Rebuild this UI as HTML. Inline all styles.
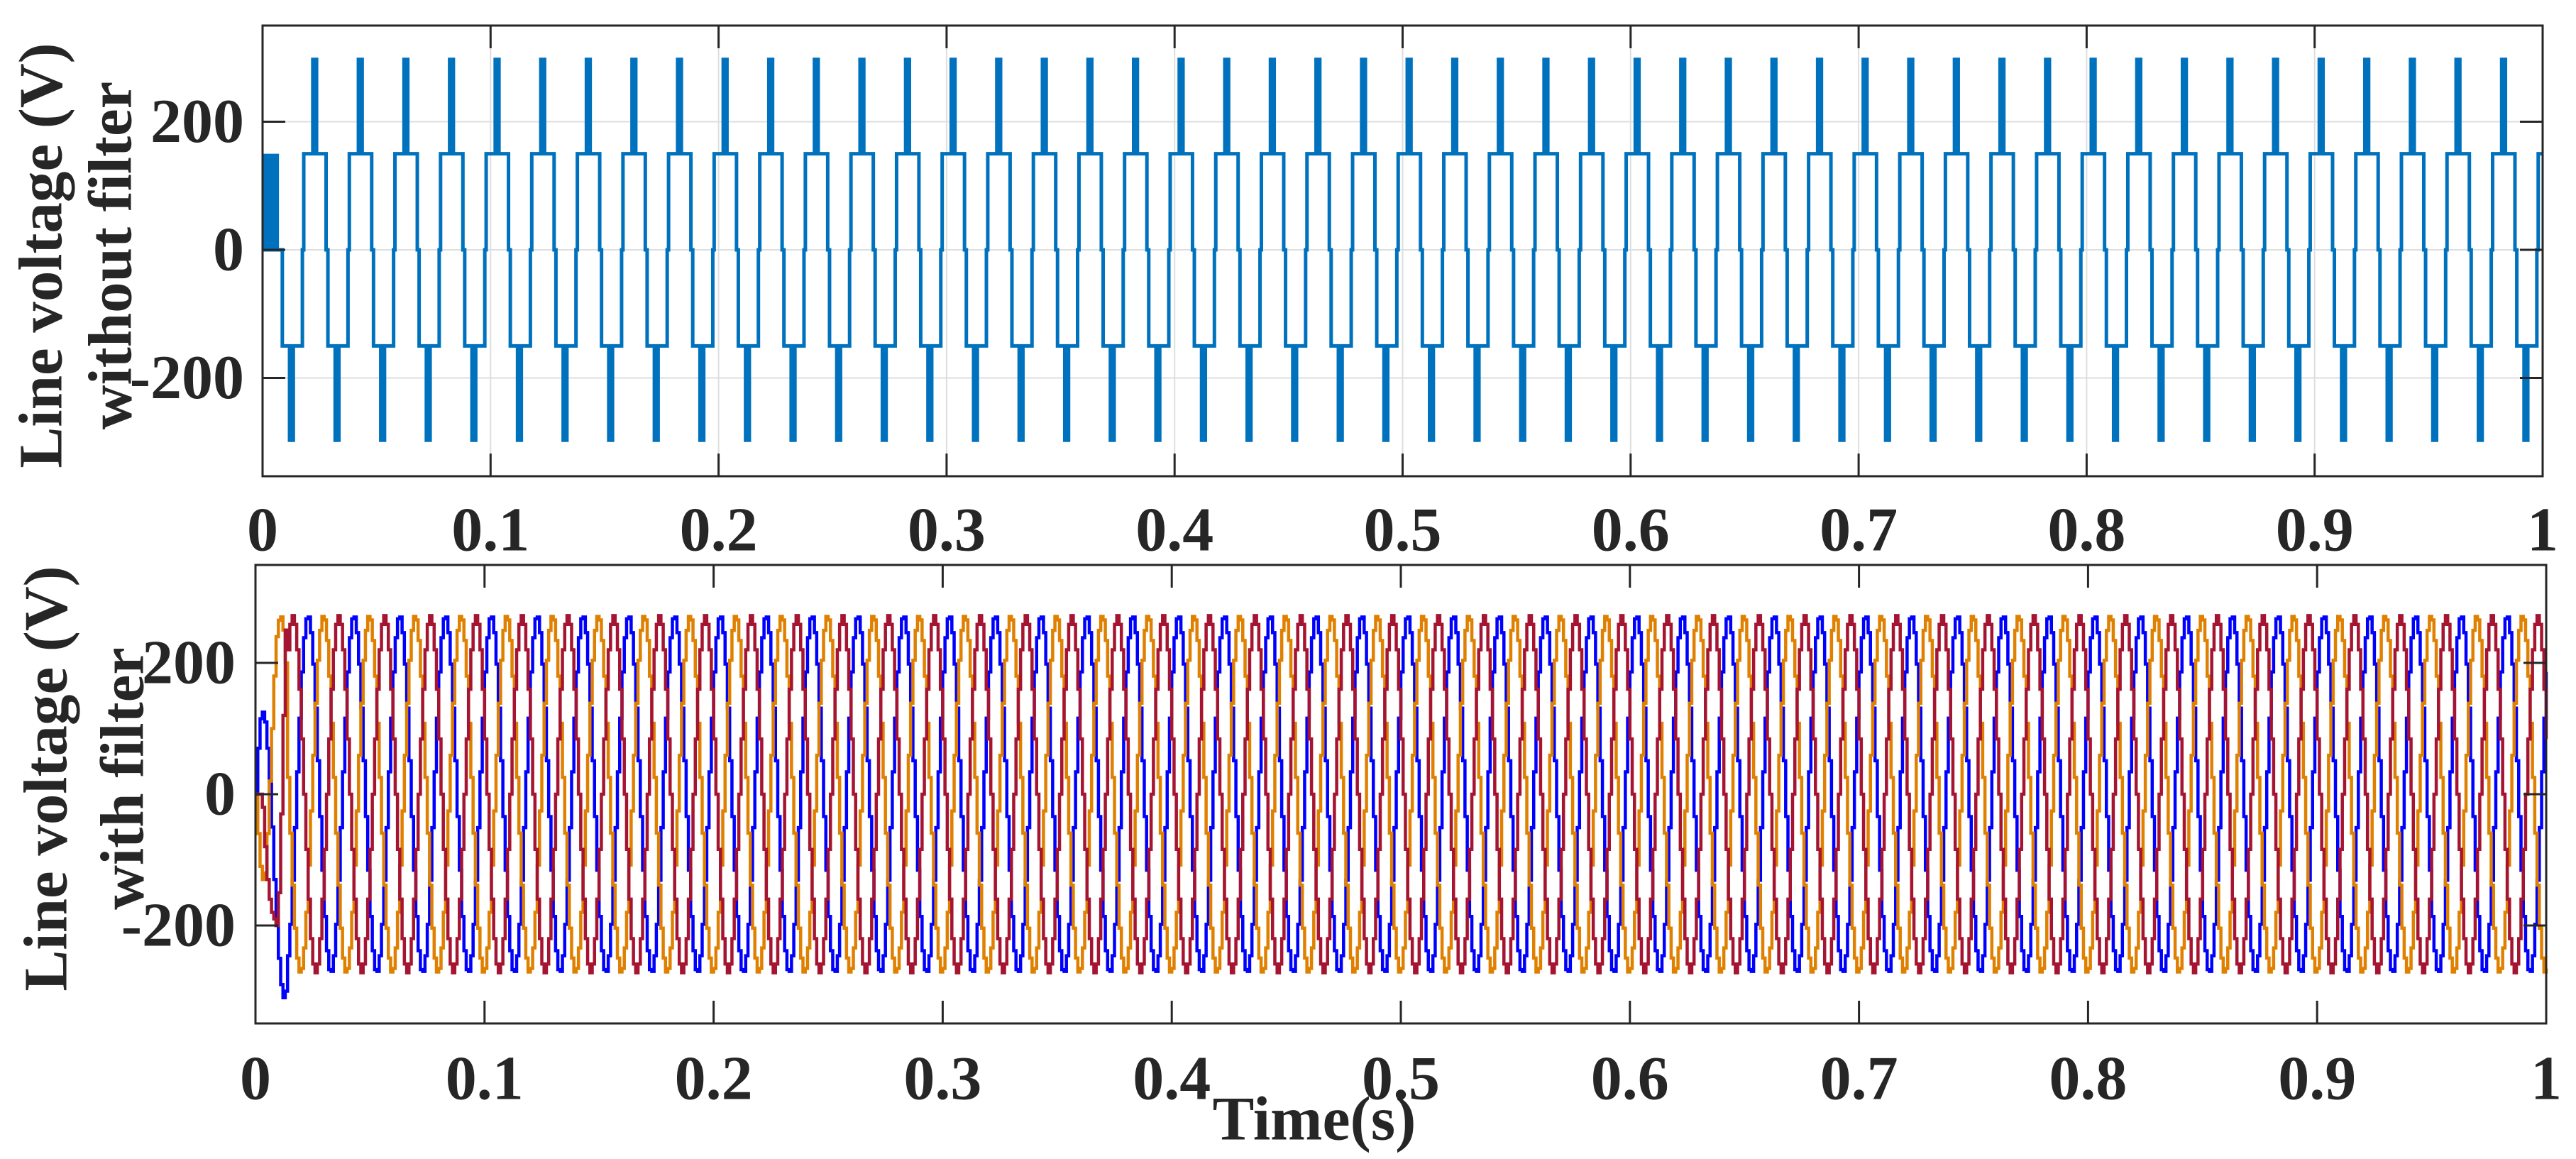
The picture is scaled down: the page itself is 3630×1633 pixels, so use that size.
<!DOCTYPE html>
<html><head><meta charset="utf-8"><style>
html,body{margin:0;padding:0;background:#fff;}
svg{display:block;}
svg text{font-family:"Liberation Serif","Times New Roman","Noto Serif CJK SC","DejaVu Serif",serif;font-weight:bold;fill:#262626;}
</style></head><body>
<svg id="fig" width="3630" height="1633" viewBox="0 0 3630 1633" xmlns="http://www.w3.org/2000/svg"></svg>
<script>
// ---- data ----
const xTicks = [0,0.1,0.2,0.3,0.4,0.5,0.6,0.7,0.8,0.9,1];
const xTickLabels = ["0","0.1","0.2","0.3","0.4","0.5","0.6","0.7","0.8","0.9","1"];
const yTicks = [-200,0,200];
const yTickLabels = ["-200","0","200"];
// top: stepped line voltage, one period pattern (fraction of period, level)
const topFreq = 50;
const topStart = 0.00866;
const periodFrac = [0, 0.44, 0.47, 0.96];
const periodLevel = [-150, 0, 150, 0];
const negSpikeFrac = [0.12, 0.28];
const posSpikeFrac = [0.63, 0.79];
const spikeLevels = [-300, 300];
const startBurst = [0, 0.0072, 150];
// bottom: filtered three-phase voltages
const sineAmp = [272, 272, 272];
const sinePeakT = [0.0026, 0.0093, 0.0160];
const sampleT = 0.001;
const transientBlue = [0,70,115,125,110,70,20,-50,-130,-200,-250,-290,-310,-300];
const transientOrange = [0,-60,-110,-130,-120,-60,20,100,180,240,265,270,250,200];
const transientRed = [0,0,0,-20,-80,-130,-160,-180,-190,-200,-150,-30,120,250];
const seriesColors = ["#0000ff","#e08000","#a51431"];

const NS="http://www.w3.org/2000/svg";
const FONT="'Liberation Serif', 'Times New Roman', 'Noto Serif CJK SC', 'DejaVu Serif', serif";
const svg=document.getElementById('fig');
function mk(tag,attrs,parent){const e=document.createElementNS(NS,tag);for(const k in attrs)e.setAttribute(k,attrs[k]);if(tag==='text'){e.setAttribute('font-family',FONT);e.setAttribute('font-weight','bold');}(parent||svg).appendChild(e);return e;}

function axes(ax, grid, nm){
  const g=mk('g',{});
  
  
  const X=t=>ax.x0+t*(ax.x1-ax.x0);
  const Y=v=>ax.yz-v*ax.k;
  if(grid){
    xTicks.forEach(t=>{const l=mk('line',{x1:X(t),x2:X(t),y1:ax.y0,y2:ax.y1,stroke:'#dedede','stroke-width':2},g);
      
      });
    yTicks.forEach(v=>{const l=mk('line',{x1:ax.x0,x2:ax.x1,y1:Y(v),y2:Y(v),stroke:'#dedede','stroke-width':2},g);
      
      });
  }
  return {g,X,Y};
}
function frame(ax,g,X,Y,labelY){
  mk('rect',{x:ax.x0,y:ax.y0,width:ax.x1-ax.x0,height:ax.y1-ax.y0,fill:'none',stroke:'#262626','stroke-width':3},g);
  xTicks.forEach((t,i)=>{
    mk('line',{x1:X(t),x2:X(t),y1:ax.y1,y2:ax.y1-32,stroke:'#262626','stroke-width':3},g);
    mk('line',{x1:X(t),x2:X(t),y1:ax.y0,y2:ax.y0+32,stroke:'#262626','stroke-width':3},g);
    const tx=mk('text',{x:X(t),y:labelY,'font-size':88,'text-anchor':'middle','dominant-baseline':'central'},g);
    tx.textContent=xTickLabels[i];
    
    
  });
  yTicks.forEach((v,i)=>{
    mk('line',{x1:ax.x0,x2:ax.x0+32,y1:Y(v),y2:Y(v),stroke:'#262626','stroke-width':3},g);
    mk('line',{x1:ax.x1,x2:ax.x1-32,y1:Y(v),y2:Y(v),stroke:'#262626','stroke-width':3},g);
    const tx=mk('text',{x:ax.ylx,y:Y(v),'font-size':88,'text-anchor':'end','dominant-baseline':'central'},g);
    tx.textContent=yTickLabels[i];
    
    
  });
}
function ylabel(lines,xs,cy,nm){
  lines.forEach((s,i)=>{
    const t=mk('text',{x:xs[i],y:cy,'font-size':87,'text-anchor':'middle','dominant-baseline':'central',transform:`rotate(-90 ${xs[i]} ${cy})`});
    t.textContent=s;
    
    
  });
}

// ---- top plot ----
const axT={x0:370,x1:3583,y0:36,y1:671,yz:352,k:180.5/200,ylx:344};
const T=axes(axT,true,'top-plot');
(function(){
  const P=1/topFreq;
  let d=`M${T.X(0)},${T.Y(0)}`;
  const g=T.g;
  const br=mk('rect',{x:T.X(startBurst[0]),y:T.Y(startBurst[2]),width:T.X(startBurst[1])-T.X(startBurst[0]),height:T.Y(0)-T.Y(startBurst[2]),fill:'#0072bd'},g);
  
  
  d+=`L${T.X(topStart)},${T.Y(0)}`;
  for(let k=0;k<60;k++){
    const t0=topStart+k*P;
    if(t0>1) break;
    for(let j=0;j<periodFrac.length;j++){
      const ta=Math.min(1,t0+periodFrac[j]*P), tb=Math.min(1,t0+(j+1<periodFrac.length?periodFrac[j+1]:1)*P);
      if(ta>=1) break;
      d+=`L${T.X(ta)},${T.Y(periodLevel[j])}L${T.X(tb)},${T.Y(periodLevel[j])}`;
    }
    [[negSpikeFrac,spikeLevels[0],-150],[posSpikeFrac,spikeLevels[1],150]].forEach(([f,lv,base])=>{
      const a=t0+f[0]*P,b=t0+f[1]*P;
      if(a>=1) return;
      const r=mk('rect',{x:T.X(a),y:Math.min(T.Y(lv),T.Y(base)),width:T.X(Math.min(b,1))-T.X(a),height:Math.abs(T.Y(lv)-T.Y(base)),fill:'#0072bd'},g);
      
      
    });
  }
  const p=mk('path',{d,fill:'none',stroke:'#0072bd','stroke-width':5,'stroke-linejoin':'miter'},g);
  
  
})();
frame(axT,T.g,T.X,T.Y,747);
ylabel(["Line voltage (V)","without filter"],[57,155],360,'top-y-axis-title');

// ---- bottom plot ----
const axB={x0:360,x1:3588,y0:796,y1:1442,yz:1119,k:185/200,ylx:332};
const B=axes(axB,false,'bottom-plot');
(function(){
  const trans=[transientBlue,transientOrange,transientRed];
  const names=['phase-ab-voltage','phase-bc-voltage','phase-ca-voltage'];
  for(let s=0;s<3;s++){
    let d='';
    const n=Math.round(1/sampleT);
    for(let i=0;i<=n;i++){
      const t=i*sampleT;
      let v=i<trans[s].length?trans[s][i]:sineAmp[s]*Math.cos(2*Math.PI*50*(t-sinePeakT[s]));
      const tn=Math.min(1,t+sampleT);
      d+=(i===0?'M':'L')+`${B.X(t)},${B.Y(v)}L${B.X(tn)},${B.Y(v)}`;
    }
    const p=mk('path',{d,fill:'none',stroke:seriesColors[s],'stroke-width':4.5,'stroke-linejoin':'miter'},B.g);
    
    
  }
})();
frame(axB,B.g,B.X,B.Y,1520);
ylabel(["Line voltage (V)","with filter"],[64,172],1097,'bottom-y-axis-title');
const xt=mk('text',{x:1852,y:1577,'font-size':88,'text-anchor':'middle','dominant-baseline':'central'});
xt.textContent='Time(s)';


</script>
</body></html>
